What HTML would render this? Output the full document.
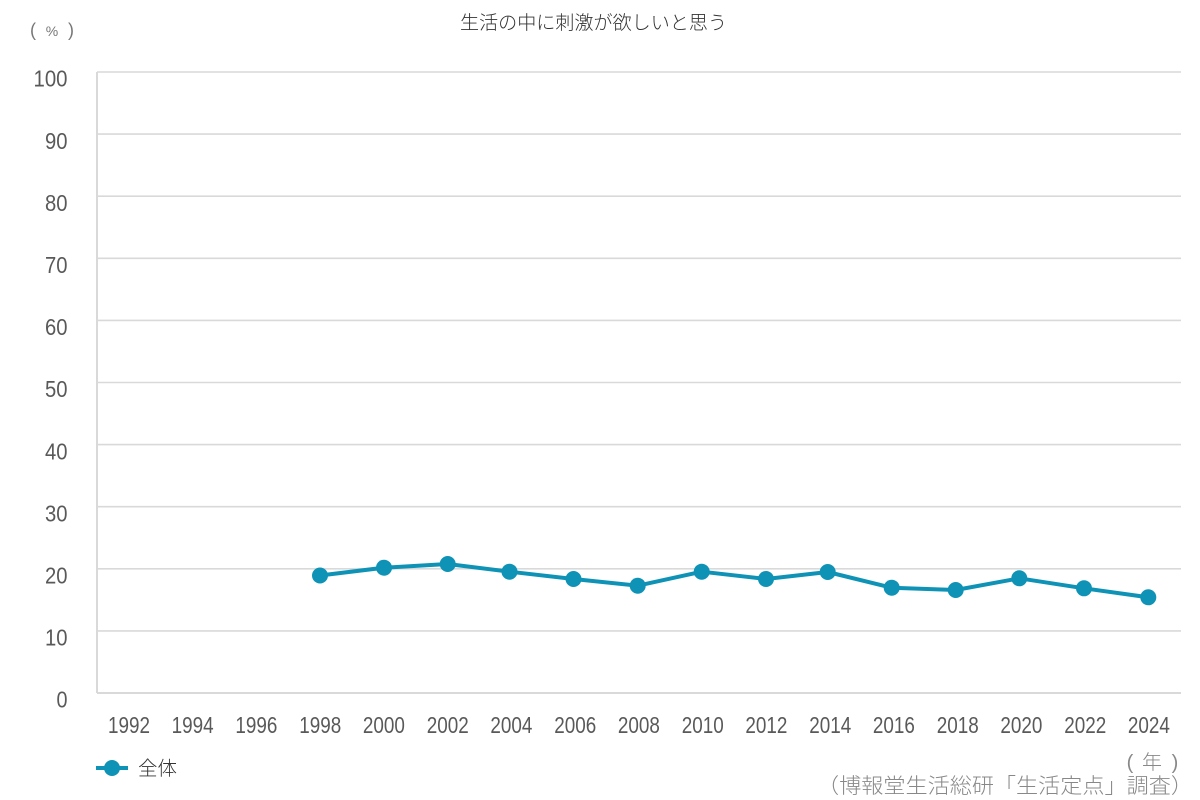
<!DOCTYPE html>
<html><head><meta charset="utf-8"><style>
html,body{margin:0;padding:0;background:#fff;}
svg{display:block;}
text{font-family:"Liberation Sans","Noto Sans CJK JP",sans-serif;}
</style></head><body>
<svg width="1200" height="800" viewBox="0 0 1200 800" xmlns="http://www.w3.org/2000/svg">
<rect width="1200" height="800" fill="#fff"/>
<text x="460" y="29" font-size="19" fill="#333" textLength="267" lengthAdjust="spacingAndGlyphs" font-family="'Noto Sans CJK JP',sans-serif" font-weight="300">生活の中に刺激が欲しいと思う</text>
<g fill="#777" font-family="'Liberation Sans',sans-serif" text-anchor="middle">
<text x="33" y="36" font-size="18">(</text>
<text x="52" y="36" font-size="14">%</text>
<text x="71" y="36" font-size="18">)</text>
</g>
<g stroke="#d9d9d9" stroke-width="1.6">
<line x1="97" y1="72" x2="1181" y2="72"/>
<line x1="97" y1="134.1" x2="1181" y2="134.1"/>
<line x1="97" y1="196.2" x2="1181" y2="196.2"/>
<line x1="97" y1="258.3" x2="1181" y2="258.3"/>
<line x1="97" y1="320.4" x2="1181" y2="320.4"/>
<line x1="97" y1="382.5" x2="1181" y2="382.5"/>
<line x1="97" y1="444.6" x2="1181" y2="444.6"/>
<line x1="97" y1="506.7" x2="1181" y2="506.7"/>
<line x1="97" y1="568.8" x2="1181" y2="568.8"/>
<line x1="97" y1="630.9" x2="1181" y2="630.9"/>
<line x1="97" y1="693" x2="1181" y2="693" stroke-width="2"/>
<line x1="97" y1="72" x2="97" y2="693" stroke-width="2"/>
</g>
<g font-size="23.5" fill="#595959">
<text x="33.5" y="86.7" textLength="34" lengthAdjust="spacingAndGlyphs">100</text>
<text x="45" y="148.8" textLength="22.5" lengthAdjust="spacingAndGlyphs">90</text>
<text x="45" y="210.9" textLength="22.5" lengthAdjust="spacingAndGlyphs">80</text>
<text x="45" y="273" textLength="22.5" lengthAdjust="spacingAndGlyphs">70</text>
<text x="45" y="335.1" textLength="22.5" lengthAdjust="spacingAndGlyphs">60</text>
<text x="45" y="397.2" textLength="22.5" lengthAdjust="spacingAndGlyphs">50</text>
<text x="45" y="459.3" textLength="22.5" lengthAdjust="spacingAndGlyphs">40</text>
<text x="45" y="521.4" textLength="22.5" lengthAdjust="spacingAndGlyphs">30</text>
<text x="45" y="583.5" textLength="22.5" lengthAdjust="spacingAndGlyphs">20</text>
<text x="45" y="645.6" textLength="22.5" lengthAdjust="spacingAndGlyphs">10</text>
<text x="56.5" y="707.7" textLength="11" lengthAdjust="spacingAndGlyphs">0</text>
</g>
<g font-size="23.5" fill="#595959">
<text x="108" y="733" textLength="42" lengthAdjust="spacingAndGlyphs">1992</text>
<text x="171.6" y="733" textLength="42" lengthAdjust="spacingAndGlyphs">1994</text>
<text x="235.4" y="733" textLength="42" lengthAdjust="spacingAndGlyphs">1996</text>
<text x="299.2" y="733" textLength="42" lengthAdjust="spacingAndGlyphs">1998</text>
<text x="362.9" y="733" textLength="42" lengthAdjust="spacingAndGlyphs">2000</text>
<text x="426.7" y="733" textLength="42" lengthAdjust="spacingAndGlyphs">2002</text>
<text x="490.4" y="733" textLength="42" lengthAdjust="spacingAndGlyphs">2004</text>
<text x="554.2" y="733" textLength="42" lengthAdjust="spacingAndGlyphs">2006</text>
<text x="617.9" y="733" textLength="42" lengthAdjust="spacingAndGlyphs">2008</text>
<text x="681.7" y="733" textLength="42" lengthAdjust="spacingAndGlyphs">2010</text>
<text x="745.4" y="733" textLength="42" lengthAdjust="spacingAndGlyphs">2012</text>
<text x="809.2" y="733" textLength="42" lengthAdjust="spacingAndGlyphs">2014</text>
<text x="872.9" y="733" textLength="42" lengthAdjust="spacingAndGlyphs">2016</text>
<text x="936.7" y="733" textLength="42" lengthAdjust="spacingAndGlyphs">2018</text>
<text x="1000.4" y="733" textLength="42" lengthAdjust="spacingAndGlyphs">2020</text>
<text x="1064.2" y="733" textLength="42" lengthAdjust="spacingAndGlyphs">2022</text>
<text x="1127.9" y="733" textLength="42" lengthAdjust="spacingAndGlyphs">2024</text>
</g>
<polyline fill="none" stroke="#0e93b6" stroke-width="4" stroke-linejoin="round" points="320,575.5 384,567.7 447.7,564 509.5,571.7 573.5,579 637.7,585.7 701.7,571.7 766,579 827.7,572 891.7,587.7 955.7,590 1019.3,578.3 1084,588.3 1148.3,597.3"/>
<g fill="#0e93b6">
<circle cx="320" cy="575.5" r="8"/>
<circle cx="384" cy="567.7" r="8"/>
<circle cx="447.7" cy="564" r="8"/>
<circle cx="509.5" cy="571.7" r="8"/>
<circle cx="573.5" cy="579" r="8"/>
<circle cx="637.7" cy="585.7" r="8"/>
<circle cx="701.7" cy="571.7" r="8"/>
<circle cx="766" cy="579" r="8"/>
<circle cx="827.7" cy="572" r="8"/>
<circle cx="891.7" cy="587.7" r="8"/>
<circle cx="955.7" cy="590" r="8"/>
<circle cx="1019.3" cy="578.3" r="8"/>
<circle cx="1084" cy="588.3" r="8"/>
<circle cx="1148.3" cy="597.3" r="8"/>
</g>
<line x1="96" y1="768" x2="128" y2="768" stroke="#0e93b6" stroke-width="4"/>
<circle cx="112" cy="768" r="8" fill="#0e93b6"/>
<text x="138" y="775" font-size="19.5" fill="#333" textLength="39" lengthAdjust="spacingAndGlyphs" font-family="'Noto Sans CJK JP',sans-serif" font-weight="300">全体</text>
<g fill="#888" font-family="'Noto Sans CJK JP',sans-serif" font-weight="300" text-anchor="middle">
<text x="1130" y="769" font-size="20" font-family="'Liberation Sans',sans-serif">(</text>
<text x="1152" y="769" font-size="20">年</text>
<text x="1175" y="769" font-size="20" font-family="'Liberation Sans',sans-serif">)</text>
</g>
<text x="817" y="793" font-size="21" fill="#888" textLength="376" lengthAdjust="spacingAndGlyphs" font-family="'Noto Sans CJK JP',sans-serif" font-weight="300">（博報堂生活総研「生活定点」調査）</text>
</svg>
</body></html>
